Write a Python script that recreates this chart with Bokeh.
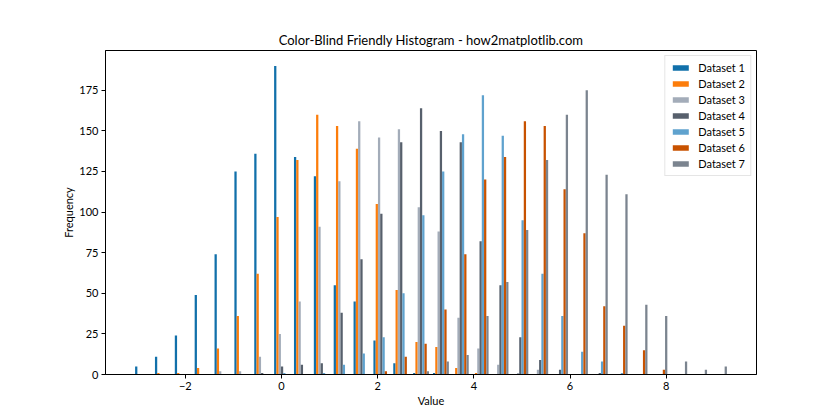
import numpy as np
from bokeh.plotting import figure
from bokeh.models import Range1d, FixedTicker, Legend, LegendItem, ColumnDataSource
from bokeh.embed import file_html
from bokeh.resources import INLINE

# ---------------- data ----------------
labels = ["Dataset 1", "Dataset 2", "Dataset 3", "Dataset 4", "Dataset 5", "Dataset 6", "Dataset 7"]
colors = ["#1170aa", "#fc7d0b", "#a3acb9", "#57606c", "#5fa2ce", "#c85200", "#7b848f"]

bin_min = -3.085
bin_max = 9.303
n_bins = 30

ds1 = [5, 11, 24, 49, 74, 125, 136, 190, 134, 122, 55, 45, 21, 7, 1, 1, 0, 0, 0, 0, 0, 0, 0, 0, 0, 0, 0, 0, 0, 0]
ds2 = [0, 1, 1, 4, 16, 36, 62, 97, 132, 160, 153, 139, 105, 52, 20, 17, 4, 1, 0, 0, 0, 0, 0, 0, 0, 0, 0, 0, 0, 0]
ds3 = [0, 0, 0, 0, 2, 2, 11, 25, 45, 91, 119, 156, 146, 151, 103, 88, 35, 16, 6, 1, 3, 0, 0, 0, 0, 0, 0, 0, 0, 0]
ds4 = [0, 0, 0, 0, 0, 0, 1, 5, 6, 7, 38, 71, 99, 143, 164, 150, 143, 82, 55, 23, 9, 3, 0, 1, 0, 0, 0, 0, 0, 0]
ds5 = [0, 0, 0, 0, 0, 0, 0, 1, 0, 1, 6, 13, 23, 50, 98, 125, 148, 172, 147, 95, 62, 36, 14, 8, 1, 0, 0, 0, 0, 0]
ds6 = [0, 0, 0, 0, 0, 0, 0, 0, 0, 0, 0, 0, 2, 11, 19, 40, 74, 120, 134, 156, 153, 114, 87, 42, 30, 15, 3, 0, 0, 0]
ds7 = [0, 0, 0, 0, 0, 0, 0, 0, 0, 0, 0, 0, 0, 0, 2, 8, 12, 36, 57, 89, 132, 160, 175, 123, 111, 43, 36, 8, 3, 5]
series = [ds1, ds2, ds3, ds4, ds5, ds6, ds7]

x_ticks = [-2, 0, 2, 4, 6, 8]
y_ticks = [0, 25, 50, 75, 100, 125, 150, 175]

FONT = "Lato"

# ---------------- geometry (matplotlib-style grouped histogram) ----------------
edges = np.linspace(bin_min, bin_max, n_bins + 1)
bw = edges[1] - edges[0]
nx = len(series)
dw = 0.8 * bw / nx

data_lo = edges[0] + 0.1 * bw
data_hi = edges[-1] - 0.1 * bw
span = data_hi - data_lo
x_lo, x_hi = data_lo - 0.05 * span, data_hi + 0.05 * span
y_hi = 1.05 * max(max(s) for s in series)

p = figure(width=840, height=420, output_backend="svg", toolbar_location=None,
           x_range=Range1d(x_lo, x_hi), y_range=Range1d(0, y_hi),
           min_border_left=105, min_border_right=84, min_border_top=50, min_border_bottom=46,
           title="Color-Blind Friendly Histogram - how2matplotlib.com")

p.background_fill_color = "white"
p.border_fill_color = "white"
p.outline_line_color = "black"
p.outline_line_width = 1
p.outline_line_alpha = 1
p.xgrid.visible = False
p.ygrid.visible = False

p.title.align = "center"
p.title.text_font = FONT
p.title.text_font_size = "13px"
p.title.text_font_style = "normal"
p.title.text_color = "black"
p.title.standoff = 6

for ax, ticks, lab in ((p.xaxis, x_ticks, "Value"), (p.yaxis, y_ticks, "Frequency")):
    ax.ticker = FixedTicker(ticks=ticks)
    ax.axis_label = lab
    ax.axis_label_text_font = FONT
    ax.axis_label_text_font_size = "11px"
    ax.axis_label_text_font_style = "normal"
    ax.axis_label_text_color = "black"
    ax.major_label_text_font = FONT
    ax.major_label_text_font_size = "11px"
    ax.major_label_text_color = "black"
    ax.axis_line_color = "black"
    ax.major_tick_line_color = "black"
    ax.major_tick_out = 4
    ax.major_tick_in = 0
    ax.minor_tick_out = 0
    ax.minor_tick_in = 0
    ax.major_label_standoff = 3
    ax.axis_label_standoff = 1

items = []
bin_left = edges[:-1]
for j, (s, c, lab) in enumerate(zip(series, colors, labels)):
    xs = bin_left + 0.1 * bw + (j + 0.5) * dw
    src = ColumnDataSource(dict(x=xs, top=s))
    r = p.vbar(x="x", top="top", bottom=0, width=dw, source=src,
               fill_color=c, line_color=None)
    items.append(LegendItem(label=lab, renderers=[r]))

legend = Legend(items=items, location="top_right")
legend.label_text_font = FONT
legend.label_text_font_size = "11px"
legend.label_text_color = "black"
legend.glyph_width = 20
legend.glyph_height = 7
legend.label_height = 12
legend.spacing = 3
legend.padding = 5
legend.margin = 5
legend.label_standoff = 8
legend.border_line_color = "#cccccc"
legend.border_line_width = 1
legend.background_fill_alpha = 0.8
p.add_layout(legend)

open("out.html", "w").write(file_html(p, INLINE))
